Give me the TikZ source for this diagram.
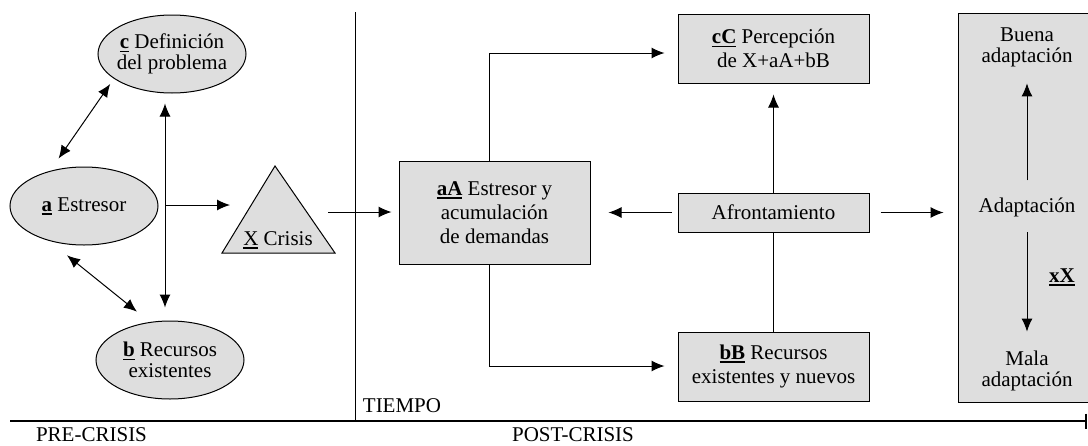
\documentclass[tikz,border=0pt]{standalone}
\usepackage{fontspec}
\setmainfont{Liberation Serif}
\usetikzlibrary{shapes.geometric,arrows.meta}
\definecolor{boxgray}{RGB}{222,222,222}
\newcommand{\ulx}[1]{\setbox0=\hbox{#1}\rlap{\rule[-1.8pt]{\wd0}{0.9pt}}\box0\relax}

\begin{document}
\begin{tikzpicture}[x=5pt,y=5pt,line width=0.5pt,font=\fontsize{10.5}{12}\selectfont]
            \tikzstyle{every node}+=[inner sep=0pt]
            \tikzstyle{oval}=[ellipse,draw,fill=boxgray,minimum width=74pt,minimum height=39pt,inner xsep=-2pt,align=center,font=\fontsize{10.5}{10.4}\selectfont]
            \tikzstyle{box}=[rectangle,draw,fill=boxgray,minimum width=95.5pt,align=center]
            \tikzstyle{lbl}=[align=center,font=\fontsize{10.5}{10.4}\selectfont]
            \tikzstyle{arr}=[-{Latex[length=6.5pt,width=5.5pt]}]
            \tikzstyle{dbl}=[{Latex[length=6.5pt,width=5.5pt]}-{Latex[length=6.5pt,width=5.5pt]}]
            \useasboundingbox (0,0) rectangle (108.8,-44.5);
            % pre-crisis
            \node [oval] (c) at (17.2,-5.4) {\ulx{\textbf{c}} Definición\\del problema};
            \node [oval] (a) at (8.4,-20.6) {\ulx{\textbf{a}} Estresor};
            \node [oval] (b) at (17.0,-36.0) {\ulx{\textbf{b}} Recursos\\existentes};
            \draw [fill=boxgray] (27.5,-16.6) -- (33.5,-25.3) -- (22.2,-25.3) -- cycle;
            \node [anchor=base] (x) at (27.8,-24.5) {\ulx{X} Crisis};
            \coordinate (hub) at (16.5,-20.5);
            \coordinate (xin) at (23.0,-20.5);
            \coordinate (xout) at (32.8,-21.2);
            \draw [dbl,shorten <=7.5pt,shorten >=3.25pt] (a.134) -- (c.203);
            \draw [dbl,shorten <=11.5pt,shorten >=8.25pt] (a.225) -- (b.118);
            \draw [dbl,shorten <=5pt,shorten >=6.5pt] (hub |- c.south) -- (hub |- b.north);
            \draw [arr] (hub) -- (xin);
            % time axis
            \draw (35.5,-1.2) -- (35.5,-42.1);
            \draw [line width=1pt,-{Bar[width=7.5pt]}] (1.0,-42.1) -- (108.7,-42.1);
            \node [anchor=base] (pre) at (9.15,-44.1) {PRE-CRISIS};
            \node [anchor=base] (post) at (57.3,-44.1) {POST-CRISIS};
            \node [anchor=base] (tiempo) at (40.2,-41.2) {TIEMPO};
            % post-crisis
            \node [box,minimum height=51.5pt] (aA) at (49.45,-21.25) {\ulx{\textbf{aA}} Estresor y\\acumulación\\de demandas};
            \node [box,minimum height=34.5pt] (cC) at (77.35,-4.85) {\ulx{\textbf{cC}} Percepción\\de X+aA+bB};
            \node [box,minimum height=19.5pt] (afr) at (77.35,-21.25) {Afrontamiento};
            \node [box,minimum height=34.5pt] (bB) at (77.35,-36.65) {\ulx{\textbf{bB}} Recursos\\existentes y nuevos};
            \node [box,minimum width=66pt,minimum height=194.5pt] (adapt) at (102.4,-20.75) {};
            \node [lbl] (buena) at (102.7,-4.7) {Buena\\adaptación};
            \node [lbl] (adtxt) at (102.7,-20.7) {Adaptación};
            \node [lbl] (mala) at (102.7,-37.1) {Mala\\adaptación};
            \node [anchor=base] (xX) at (106.2,-28.2) {\ulx{\textbf{xX}}};
            \coordinate (up) at (48.9,-5.3);
            \coordinate (dn) at (48.9,-36.6);
            \draw [arr,shorten >=3.5pt] (xout) -- (xout -| aA.west);
            \draw [arr,shorten >=6.5pt] (aA.north -| up) -- (up) -- (up -| cC.west);
            \draw [arr,shorten >=6.5pt] (aA.south -| dn) -- (dn) -- (dn -| bB.west);
            \draw [arr,shorten <=3pt,shorten >=9pt] (afr.west) -- (aA.east);
            \draw [arr,shorten >=5.5pt] (afr.north) -- (cC.south);
            \draw (bB.north) -- (afr.south);
            \draw [arr,shorten <=5.5pt,shorten >=7pt] (afr.east) -- (afr.east -| adapt.west);
            \draw [arr,shorten <=8.25pt,shorten >=8.2pt] (adtxt.north) -- (buena.south);
            \draw [arr,shorten <=7.7pt,shorten >=9.5pt] (adtxt.south) -- (mala.north);
\end{tikzpicture}
\end{document}
